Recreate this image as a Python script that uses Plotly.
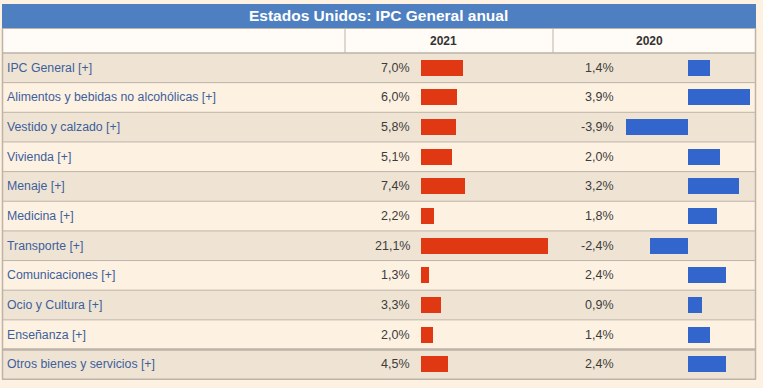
import plotly.graph_objects as go

TITLE = "Estados Unidos: IPC General anual"
YEARS = ["2021", "2020"]
categories = [
    "IPC General [+]",
    "Alimentos y bebidas no alcohólicas [+]",
    "Vestido y calzado [+]",
    "Vivienda [+]",
    "Menaje [+]",
    "Medicina [+]",
    "Transporte [+]",
    "Comunicaciones [+]",
    "Ocio y Cultura [+]",
    "Enseñanza [+]",
    "Otros bienes y servicios [+]",
]
v2021 = [7.0, 6.0, 5.8, 5.1, 7.4, 2.2, 21.1, 1.3, 3.3, 2.0, 4.5]
v2020 = [1.4, 3.9, -3.9, 2.0, 3.2, 1.8, -2.4, 2.4, 0.9, 1.4, 2.4]

W, H = 763, 388
ROW_TOP, ROW_H = 53.0, 29.65
N = len(categories)

def py2y(py):
    return -0.5 + (py - ROW_TOP) / ROW_H

def px(x):
    return x / W

def fmt(v):
    return f"{v:.1f}".replace(".", ",") + "%"

BG = "#FDF1E2"
DARK = "#EFE4D3"
LINE = "#BDB3A8"
FONT = "Liberation Sans, Arial, sans-serif"

fig = go.Figure()
idx = list(range(N))
bw = 16 / ROW_H
fig.add_trace(go.Bar(y=idx, x=v2021, orientation="h", width=bw,
                     marker=dict(color="#DF3812", line=dict(width=0)),
                     xaxis="x", yaxis="y", hoverinfo="skip"))
fig.add_trace(go.Bar(y=idx, x=v2020, orientation="h", width=bw,
                     marker=dict(color="#3366CC", line=dict(width=0)),
                     xaxis="x2", yaxis="y", hoverinfo="skip"))

shapes = []
shapes.append(dict(type="rect", xref="paper", yref="y", x0=px(2), x1=px(756),
                   y0=py2y(4), y1=py2y(28), fillcolor="#4E7FC1", line=dict(width=0), layer="below"))
shapes.append(dict(type="rect", xref="paper", yref="y", x0=px(2), x1=px(756),
                   y0=py2y(28), y1=py2y(53), fillcolor="#FFFCF7", line=dict(width=0), layer="below"))
for i in idx:
    shapes.append(dict(type="rect", xref="paper", yref="y", x0=px(2), x1=px(756),
                       y0=i - 0.5, y1=i + 0.5, fillcolor=DARK if i % 2 == 0 else BG,
                       line=dict(width=0), layer="below"))
for py_, wdt in [(28.5, 1), (53, 1)]:
    shapes.append(dict(type="line", xref="paper", yref="y", x0=px(2), x1=px(756),
                       y0=py2y(py_), y1=py2y(py_), line=dict(color=LINE, width=wdt)))
for i in range(N):
    wdt = 2.5 if i == N - 1 else 1
    shapes.append(dict(type="line", xref="paper", yref="y", x0=px(2), x1=px(756),
                       y0=i - 0.5, y1=i - 0.5, line=dict(color=LINE, width=wdt)))
shapes.append(dict(type="line", xref="paper", yref="y", x0=px(2), x1=px(756),
                   y0=N - 0.5, y1=N - 0.5, line=dict(color=LINE, width=1.5)))
for xx in [2.5, 755.5]:
    shapes.append(dict(type="line", xref="paper", yref="y", x0=px(xx), x1=px(xx),
                       y0=py2y(28), y1=N - 0.5, line=dict(color=LINE, width=1.5)))
for xx in [345, 553]:
    shapes.append(dict(type="line", xref="paper", yref="y", x0=px(xx), x1=px(xx),
                       y0=py2y(28), y1=py2y(53), line=dict(color=LINE, width=1)))

ann = []
ann.append(dict(text=f"<b>{TITLE}</b>", xref="paper", yref="y", x=px(378), y=py2y(15.5),
                showarrow=False, font=dict(family=FONT, size=15.5, color="white"),
                xanchor="center", yanchor="middle"))
for yr, cx in zip(YEARS, [443, 649]):
    ann.append(dict(text=f"<b>{yr}</b>", xref="paper", yref="y", x=px(cx), y=py2y(41),
                    showarrow=False, font=dict(family=FONT, size=12, color="#333333"),
                    xanchor="center", yanchor="middle"))
for i, (c, a, b) in enumerate(zip(categories, v2021, v2020)):
    ann.append(dict(text=c, xref="paper", yref="y", x=px(5), y=i, showarrow=False,
                    font=dict(family=FONT, size=12.3, color="#3D5F9C"),
                    xanchor="left", yanchor="middle"))
    ann.append(dict(text=fmt(a), xref="paper", yref="y", x=px(412.5), y=i, showarrow=False,
                    font=dict(family=FONT, size=12.5, color="#3C3C3C"),
                    xanchor="right", yanchor="middle"))
    ann.append(dict(text=fmt(b), xref="paper", yref="y", x=px(615.5), y=i, showarrow=False,
                    font=dict(family=FONT, size=12.5, color="#3C3C3C"),
                    xanchor="right", yanchor="middle"))

S1, Z1 = 6.0, 421
S2, Z2 = 16.0, 688
hidden = dict(visible=False, showgrid=False, zeroline=False, fixedrange=True)
fig.update_layout(
    width=W, height=H, margin=dict(l=0, r=0, t=0, b=0),
    paper_bgcolor=BG, plot_bgcolor="rgba(0,0,0,0)",
    showlegend=False, bargap=0,
    xaxis=dict(domain=[px(345), px(553)], range=[-(Z1 - 345) / S1, (553 - Z1) / S1], **hidden),
    xaxis2=dict(domain=[px(553), px(756)], range=[-(Z2 - 553) / S2, (756 - Z2) / S2],
                anchor="y", **hidden),
    yaxis=dict(domain=[0, 1], range=[py2y(H), py2y(0)], **hidden),
    shapes=shapes, annotations=ann,
)
fig.write_html("out.html", config={"displayModeBar": False, "staticPlot": True},
               post_script="document.body.style.margin='0';document.body.style.overflow='hidden';"
                           "document.body.style.background='" + BG + "';")
